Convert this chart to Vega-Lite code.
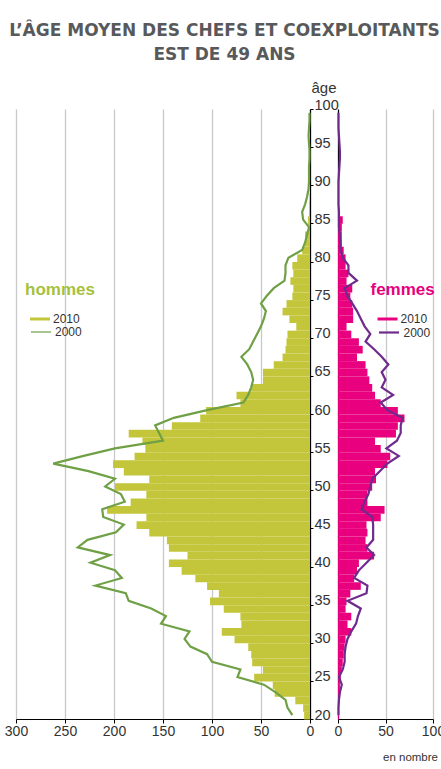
{
  "$schema": "https://vega.github.io/schema/vega-lite/v6.json",
  "background": "white",
  "padding": {"left": 4, "top": 22, "right": 0, "bottom": 0},
  "title": {
    "text": ["L’ÂGE MOYEN DES CHEFS ET COEXPLOITANTS", "EST DE 49 ANS"],
    "font": "DejaVu Sans",
    "fontSize": 17,
    "fontWeight": "bold",
    "color": "#58595b",
    "anchor": "middle",
    "lineHeight": 24,
    "offset": 16
  },
  "data": {
    "values": [
      {"age": 20, "h10": 6, "h00": 18, "f10": 1, "f00": 0.5},
      {"age": 21, "h10": 7, "h00": 23, "f10": 1, "f00": 0.5},
      {"age": 22, "h10": 15, "h00": 25, "f10": 1, "f00": 1},
      {"age": 23, "h10": 36, "h00": 35, "f10": 2, "f00": 2},
      {"age": 24, "h10": 38, "h00": 47, "f10": 2, "f00": 4},
      {"age": 25, "h10": 57, "h00": 74, "f10": 3, "f00": 1},
      {"age": 26, "h10": 48, "h00": 71, "f10": 4, "f00": 5},
      {"age": 27, "h10": 59, "h00": 100, "f10": 5, "f00": 7},
      {"age": 28, "h10": 60, "h00": 105, "f10": 6, "f00": 7},
      {"age": 29, "h10": 63, "h00": 122, "f10": 7, "f00": 8},
      {"age": 30, "h10": 77, "h00": 128, "f10": 8, "f00": 10},
      {"age": 31, "h10": 90, "h00": 123, "f10": 14, "f00": 14},
      {"age": 32, "h10": 70, "h00": 152, "f10": 10, "f00": 19},
      {"age": 33, "h10": 71, "h00": 147, "f10": 14, "f00": 21},
      {"age": 34, "h10": 88, "h00": 162, "f10": 8, "f00": 24},
      {"age": 35, "h10": 102, "h00": 185, "f10": 9, "f00": 10},
      {"age": 36, "h10": 93, "h00": 188, "f10": 13, "f00": 30},
      {"age": 37, "h10": 105, "h00": 219, "f10": 24, "f00": 31},
      {"age": 38, "h10": 117, "h00": 192, "f10": 17, "f00": 17},
      {"age": 39, "h10": 131, "h00": 199, "f10": 20, "f00": 22},
      {"age": 40, "h10": 144, "h00": 224, "f10": 22, "f00": 30},
      {"age": 41, "h10": 125, "h00": 204, "f10": 38, "f00": 38},
      {"age": 42, "h10": 144, "h00": 237, "f10": 31, "f00": 30},
      {"age": 43, "h10": 146, "h00": 227, "f10": 29, "f00": 37},
      {"age": 44, "h10": 164, "h00": 198, "f10": 31, "f00": 37},
      {"age": 45, "h10": 177, "h00": 190, "f10": 30, "f00": 37},
      {"age": 46, "h10": 167, "h00": 211, "f10": 45, "f00": 36},
      {"age": 47, "h10": 207, "h00": 212, "f10": 49, "f00": 25},
      {"age": 48, "h10": 183, "h00": 189, "f10": 31, "f00": 28},
      {"age": 49, "h10": 167, "h00": 193, "f10": 31, "f00": 32},
      {"age": 50, "h10": 199, "h00": 209, "f10": 36, "f00": 34},
      {"age": 51, "h10": 164, "h00": 199, "f10": 40, "f00": 36},
      {"age": 52, "h10": 190, "h00": 226, "f10": 39, "f00": 44},
      {"age": 53, "h10": 201, "h00": 262, "f10": 52, "f00": 52},
      {"age": 54, "h10": 179, "h00": 231, "f10": 55, "f00": 64},
      {"age": 55, "h10": 168, "h00": 199, "f10": 45, "f00": 51},
      {"age": 56, "h10": 171, "h00": 150, "f10": 39, "f00": 62},
      {"age": 57, "h10": 185, "h00": 154, "f10": 61, "f00": 66},
      {"age": 58, "h10": 141, "h00": 158, "f10": 63, "f00": 66},
      {"age": 59, "h10": 112, "h00": 139, "f10": 70, "f00": 68},
      {"age": 60, "h10": 106, "h00": 105, "f10": 63, "f00": 52},
      {"age": 61, "h10": 71, "h00": 68, "f10": 45, "f00": 45},
      {"age": 62, "h10": 75, "h00": 63, "f10": 39, "f00": 58},
      {"age": 63, "h10": 60, "h00": 60, "f10": 36, "f00": 46},
      {"age": 64, "h10": 48, "h00": 58, "f10": 33, "f00": 50},
      {"age": 65, "h10": 48, "h00": 60, "f10": 31, "f00": 46},
      {"age": 66, "h10": 37, "h00": 64, "f10": 29, "f00": 53},
      {"age": 67, "h10": 28, "h00": 70, "f10": 20, "f00": 46},
      {"age": 68, "h10": 25, "h00": 62, "f10": 26, "f00": 38},
      {"age": 69, "h10": 24, "h00": 58, "f10": 22, "f00": 29},
      {"age": 70, "h10": 23, "h00": 54, "f10": 14, "f00": 34},
      {"age": 71, "h10": 14, "h00": 50, "f10": 9, "f00": 28},
      {"age": 72, "h10": 21, "h00": 47, "f10": 16, "f00": 24},
      {"age": 73, "h10": 28, "h00": 45, "f10": 16, "f00": 20},
      {"age": 74, "h10": 24, "h00": 50, "f10": 15, "f00": 15},
      {"age": 75, "h10": 18, "h00": 44, "f10": 13, "f00": 10},
      {"age": 76, "h10": 17, "h00": 37, "f10": 15, "f00": 7},
      {"age": 77, "h10": 20, "h00": 26, "f10": 9, "f00": 20},
      {"age": 78, "h10": 17, "h00": 25, "f10": 11, "f00": 11},
      {"age": 79, "h10": 18, "h00": 25, "f10": 8, "f00": 11},
      {"age": 80, "h10": 13, "h00": 22, "f10": 8, "f00": 5},
      {"age": 81, "h10": 8, "h00": 8, "f10": 6, "f00": 3},
      {"age": 82, "h10": 5, "h00": 5, "f10": 4, "f00": 2.5},
      {"age": 83, "h10": 5, "h00": 3, "f10": 4, "f00": 2},
      {"age": 84, "h10": 2, "h00": 1, "f10": 4, "f00": 1},
      {"age": 85, "h10": 2, "h00": 7, "f10": 5, "f00": 1},
      {"age": 86, "h10": 1, "h00": 8, "f10": 2, "f00": 1},
      {"age": 87, "h10": 1, "h00": 5, "f10": 1, "f00": 0.5},
      {"age": 88, "h10": 0.5, "h00": 3, "f10": 1, "f00": 0.5},
      {"age": 89, "h10": 0, "h00": 1.5, "f10": 0, "f00": 0.5},
      {"age": 90, "h10": 0, "h00": 1, "f10": 0, "f00": 0.5},
      {"age": 91, "h10": 0, "h00": 1, "f10": 0, "f00": 1},
      {"age": 92, "h10": 0, "h00": 1, "f10": 0, "f00": 1.5},
      {"age": 93, "h10": 0, "h00": 0.5, "f10": 0, "f00": 2},
      {"age": 94, "h10": 0, "h00": 0.5, "f10": 0, "f00": 2},
      {"age": 95, "h10": 0, "h00": 1, "f10": 0, "f00": 1.5},
      {"age": 96, "h10": 0, "h00": 1.5, "f10": 0, "f00": 1},
      {"age": 97, "h10": 0, "h00": 1, "f10": 0, "f00": 0.5},
      {"age": 98, "h10": 0, "h00": 0.5, "f10": 0, "f00": 0.5},
      {"age": 99, "h10": 0, "h00": 0.5, "f10": 0, "f00": 0.5}
    ]
  },
  "bounds": "flush",
  "spacing": 28,
  "hconcat": [
    {
      "width": 294,
      "height": 610,
      "layer": [
        {
          "mark": {"type": "bar", "binSpacing": 0},
          "encoding": {
            "y": {
              "field": "age", "type": "quantitative", "title": "âge",
              "bin": {"step": 1, "extent": [20, 100]},
              "scale": {"domain": [20, 100], "nice": false, "zero": false},
              "axis": {
                "orient": "right",
                "values": [20, 25, 30, 35, 40, 45, 50, 55, 60, 65, 70, 75, 80, 85, 90, 95, 100],
                "grid": false, "tickSize": 3, "labelPadding": 1,
                "labelAlign": "left", "labelBaseline": "alphabetic",
                "labelFlush": false, "labelOverlap": false, "labelFontSize": 14.5,
                "titleAngle": 0, "titleX": 1, "titleY": -17,
                "titleAlign": "left", "titleBaseline": "alphabetic",
                "titleFontSize": 15
              }
            },
            "x": {
              "field": "h10", "type": "quantitative", "title": null,
              "scale": {"domain": [0, 300], "reverse": true, "nice": false},
              "axis": {"values": [0, 50, 100, 150, 200, 250, 300], "grid": true, "tickSize": 4, "labelPadding": 1, "labelFlush": false}
            },
            "fill": {
              "datum": "2010",
              "scale": {"range": ["#c3c63a"]},
              "legend": {
                "title": "hommes", "orient": "none", "legendX": 9, "legendY": 173,
                "padding": 0, "titleFontSize": 17, "titleFont": "Liberation Sans",
                "titleFontWeight": "bold", "titleColor": "#a6c23c", "titlePadding": 10,
                "symbolType": "M-1,-0.15H1V0.15H-1Z", "symbolSize": 400, "symbolOffset": 5,
                "symbolStrokeWidth": 0, "labelFontSize": 12, "labelColor": "#333333",
                "labelOffset": 3, "labelFont": "Liberation Sans"
              }
            }
          }
        },
        {
          "mark": {"type": "line", "strokeWidth": 2.2},
          "encoding": {
            "y": {"field": "age", "type": "quantitative", "title": "âge", "bin": {"step": 1, "extent": [20, 100]}},
            "x": {"field": "h00", "type": "quantitative", "title": null},
            "order": {"field": "age"},
            "stroke": {
              "datum": "2000",
              "scale": {"range": ["#70a046"]},
              "legend": {
                "title": null, "orient": "none", "legendX": 9, "legendY": 212, "padding": 0,
                "symbolType": "stroke", "symbolSize": 400, "symbolOffset": 5,
                "symbolStrokeWidth": 1.2, "labelFontSize": 12, "labelColor": "#333333",
                "labelOffset": 3, "labelFont": "Liberation Sans"
              }
            }
          }
        }
      ]
    },
    {
      "width": 95,
      "height": 610,
      "layer": [
        {
          "mark": {"type": "bar", "binSpacing": 0},
          "encoding": {
            "y": {
              "field": "age", "type": "quantitative", "title": null,
              "bin": {"step": 1, "extent": [20, 100]},
              "scale": {"domain": [20, 100], "nice": false, "zero": false},
              "axis": {"orient": "left", "labels": false, "ticks": false, "grid": false, "values": [20, 100]}
            },
            "x": {
              "field": "f10", "type": "quantitative", "title": "en nombre",
              "scale": {"domain": [0, 100], "nice": false},
              "axis": {
                "values": [0, 50, 100], "grid": true, "tickSize": 4, "labelPadding": 1, "labelFlush": false,
                "titleX": 99.5, "titleY": 41, "titleAlign": "right", "titleAnchor": null,
                "titleBaseline": "alphabetic", "titleFontSize": 11.5
              }
            },
            "fill": {
              "datum": "2010",
              "scale": {"range": ["#e8007f"]},
              "legend": {
                "title": "femmes", "orient": "none", "legendX": 32.5, "legendY": 173,
                "padding": 0, "titleFontSize": 17, "titleFont": "Liberation Sans",
                "titleFontWeight": "bold", "titleColor": "#e6007e", "titlePadding": 10,
                "symbolType": "M-1,-0.15H1V0.15H-1Z", "symbolSize": 400, "symbolOffset": 7,
                "symbolStrokeWidth": 0, "labelFontSize": 12, "labelColor": "#333333",
                "labelOffset": 3, "labelFont": "Liberation Sans"
              }
            }
          }
        },
        {
          "mark": {"type": "line", "strokeWidth": 2.2},
          "encoding": {
            "y": {"field": "age", "type": "quantitative", "title": null, "bin": {"step": 1, "extent": [20, 100]}},
            "x": {"field": "f00", "type": "quantitative", "title": "en nombre"},
            "order": {"field": "age"},
            "stroke": {
              "datum": "2000",
              "scale": {"range": ["#6e2a8c"]},
              "legend": {
                "title": null, "orient": "none", "legendX": 32.5, "legendY": 212, "padding": 0,
                "symbolType": "stroke", "symbolSize": 400, "symbolOffset": 7,
                "symbolStrokeWidth": 2.2, "labelFontSize": 12, "labelColor": "#333333",
                "labelOffset": 3, "labelFont": "Liberation Sans"
              }
            }
          }
        }
      ]
    }
  ],
  "resolve": {
    "scale": {"x": "independent", "y": "independent", "fill": "independent", "stroke": "independent"},
    "legend": {"fill": "independent", "stroke": "independent"}
  },
  "config": {
    "view": {"stroke": null},
    "font": "Liberation Sans",
    "axis": {
      "labelFont": "Liberation Sans", "labelFontSize": 14, "labelColor": "#333333",
      "domainColor": "#000000", "domainWidth": 1.2, "tickColor": "#000000",
      "gridColor": "#c8c8cc", "gridWidth": 1.3,
      "titleFont": "Liberation Sans", "titleFontWeight": "normal", "titleColor": "#333333"
    }
  }
}
